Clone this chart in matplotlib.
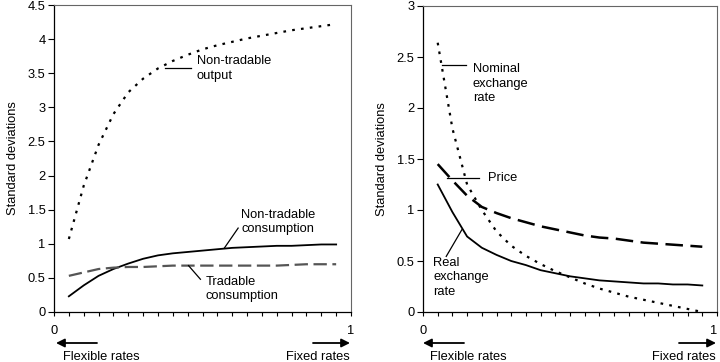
import numpy as np
import matplotlib
matplotlib.use("Agg")
import matplotlib.pyplot as plt

plt.rcParams['font.family'] = ['Liberation Sans', 'DejaVu Sans']
plt.rcParams['font.size'] = 9.3

# shared x grid (degree of exchange rate fixity)
x = [0.05, 0.10, 0.15, 0.20, 0.25, 0.30, 0.35, 0.40, 0.45, 0.50,
     0.55, 0.60, 0.65, 0.70, 0.75, 0.80, 0.85, 0.90, 0.95]

# left panel
nt_output = [1.07, 1.85, 2.45, 2.90, 3.22, 3.42, 3.57, 3.68, 3.77, 3.85,
             3.91, 3.96, 4.01, 4.05, 4.09, 4.13, 4.16, 4.19, 4.22]
nt_consumption = [0.23, 0.39, 0.53, 0.63, 0.71, 0.78, 0.83, 0.86, 0.88, 0.90,
                  0.92, 0.94, 0.95, 0.96, 0.97, 0.97, 0.98, 0.99, 0.99]
t_consumption = [0.53, 0.58, 0.63, 0.65, 0.66, 0.66, 0.67, 0.68, 0.68, 0.68,
                 0.68, 0.68, 0.68, 0.68, 0.68, 0.69, 0.70, 0.70, 0.70]

# right panel
nominal_rate = [2.64, 1.80, 1.25, 1.00, 0.79, 0.65, 0.55, 0.47, 0.40, 0.34,
                0.28, 0.23, 0.19, 0.15, 0.12, 0.09, 0.06, 0.03, 0.00]
price = [1.45, 1.29, 1.14, 1.03, 0.97, 0.92, 0.88, 0.84, 0.81, 0.78,
         0.75, 0.73, 0.72, 0.70, 0.68, 0.67, 0.66, 0.65, 0.64]
real_rate = [1.25, 0.98, 0.74, 0.63, 0.56, 0.50, 0.46, 0.41, 0.38, 0.35,
             0.33, 0.31, 0.30, 0.29, 0.28, 0.28, 0.27, 0.27, 0.26]

W, H = 720, 362
fig = plt.figure(figsize=(W / 100, H / 100), dpi=100)
ax1 = fig.add_axes([54 / W, 50 / H, 297 / W, 307 / H])
ax2 = fig.add_axes([423 / W, 50 / H, 294 / W, 306 / H])

dotted = (0, (1.2, 2.8))
longdash = (0, (6, 2.5))


def style(ax, ymax):
    ax.set_xlim(0, 1)
    ax.set_ylim(0, ymax)
    ax.set_yticks(np.arange(0, ymax + 0.01, 0.5))
    ax.set_yticklabels(['%g' % v for v in np.arange(0, ymax + 0.01, 0.5)])
    ax.set_xticks([0, 1])
    ax.set_xticklabels(['0', '1'])
    ax.set_xticks(np.arange(0.05, 1.0, 0.05), minor=True)
    ax.tick_params(axis='x', which='both', direction='out', length=3, width=0.8, pad=6)
    ax.tick_params(axis='y', direction='out', length=4, width=0.8, pad=2)
    for s in ['top', 'right']:
        ax.spines[s].set_color('#666666')
        ax.spines[s].set_linewidth(0.8)
    for s in ['left', 'bottom']:
        ax.spines[s].set_color('black')
        ax.spines[s].set_linewidth(0.9)
    ax.set_ylabel('Standard deviations', labelpad=6)


style(ax1, 4.5)
style(ax2, 3)
# keep the right-hand "1" inside the picture
ax2.get_xticklabels()[1].set_horizontalalignment('right')

ax1.plot(x, nt_output, color='black', lw=1.6, linestyle=dotted)
ax1.plot(x, nt_consumption, color='black', lw=1.3)
ax1.plot(x, t_consumption, color='#555555', lw=1.6, linestyle=longdash)

ax2.plot(x, nominal_rate, color='black', lw=1.6, linestyle=dotted)
ax2.plot(x, price, color='black', lw=1.8, linestyle=(0, (7, 3)))
ax2.plot(x, real_rate, color='black', lw=1.3)

# leader lines and labels
ax1.plot([0.375, 0.46], [3.57, 3.57], color='black', lw=0.9)
ax1.text(0.48, 3.57, 'Non-tradable\noutput', ha='left', va='center', linespacing=1.25)
ax1.plot([0.574, 0.62], [0.94, 1.23], color='black', lw=0.9)
ax1.text(0.63, 1.32, 'Non-tradable\nconsumption', ha='left', va='center', linespacing=1.25)
ax1.plot([0.453, 0.493], [0.68, 0.48], color='black', lw=0.9)
ax1.text(0.51, 0.34, 'Tradable\nconsumption', ha='left', va='center', linespacing=1.25)

ax2.plot([0.064, 0.147], [2.42, 2.42], color='black', lw=0.9)
ax2.text(0.17, 2.24, 'Nominal\nexchange\nrate', ha='left', va='center', linespacing=1.25)
ax2.plot([0.083, 0.192], [1.31, 1.31], color='black', lw=0.9)
ax2.text(0.22, 1.31, 'Price', ha='left', va='center')
ax2.plot([0.132, 0.079], [0.806, 0.545], color='black', lw=0.9)
ax2.text(0.035, 0.34, 'Real\nexchange\nrate', ha='left', va='center', linespacing=1.25)


def arrows(x0, x1):
    y = 1 - 343 / H
    ty = 1 - 357 / H
    fig.add_artist(matplotlib.patches.FancyArrowPatch(
        ((x0 + 42) / W, y), ((x0 + 1) / W, y), transform=fig.transFigure,
        arrowstyle='-|>,head_length=5,head_width=2.5', color='black', lw=1.3,
        mutation_scale=1, shrinkA=0, shrinkB=0))
    fig.add_artist(matplotlib.patches.FancyArrowPatch(
        ((x1 - 38) / W, y), ((x1 - 1) / W, y), transform=fig.transFigure,
        arrowstyle='-|>,head_length=5,head_width=2.5', color='black', lw=1.3,
        mutation_scale=1, shrinkA=0, shrinkB=0))
    fig.text((x0 + 8) / W, ty, 'Flexible rates', ha='left', va='center')
    fig.text((x1 - 1) / W, ty, 'Fixed rates', ha='right', va='center')


arrows(55, 351)
arrows(422, 717)

fig.savefig('out.png', dpi=100)
